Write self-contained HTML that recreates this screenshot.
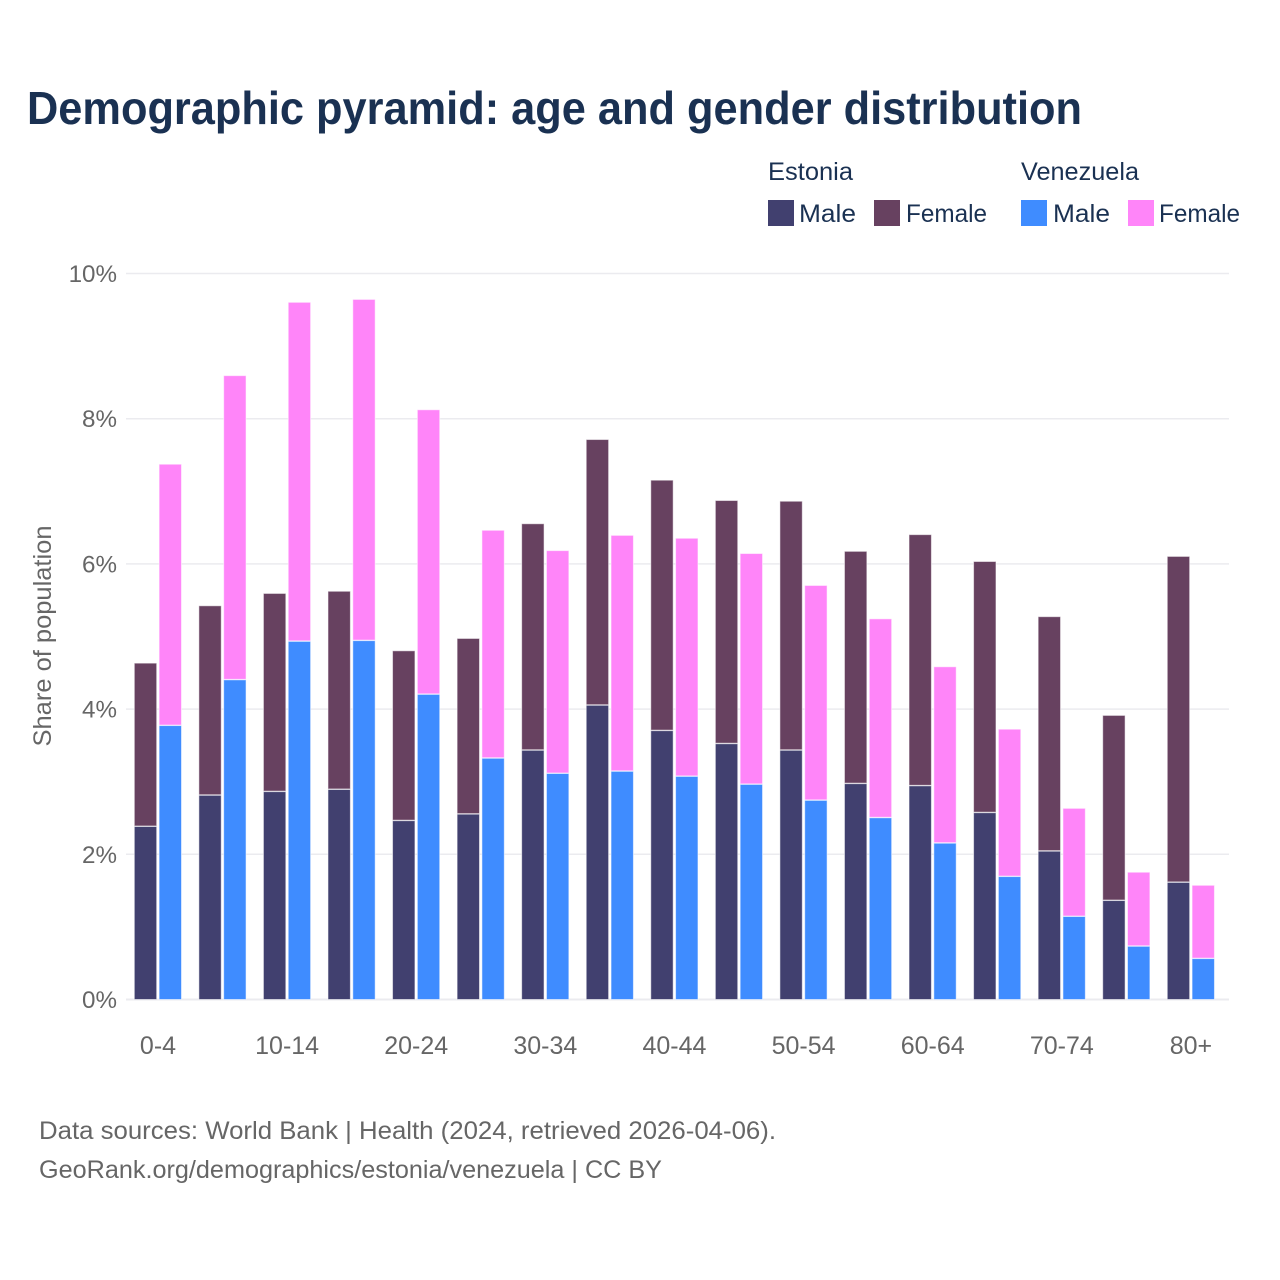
<!DOCTYPE html>
<html lang="en">
<head>
<meta charset="utf-8">
<title>Demographic pyramid: age and gender distribution</title>
<style>
html,body{margin:0;padding:0;background:#fff;width:1280px;height:1280px;overflow:hidden}
svg{display:block;font-family:"Liberation Sans",Arial,sans-serif}
</style>
</head>
<body>
<svg id="chart" xmlns="http://www.w3.org/2000/svg" width="1280" height="1280" viewBox="0 0 1280 1280">
  <rect width="1280" height="1280" fill="#fff"/>
  <text x="27" y="124" font-size="46" font-weight="700" fill="#1a3152" textLength="1055" lengthAdjust="spacingAndGlyphs">Demographic pyramid: age and gender distribution</text>

  <g font-size="25" fill="#1a3152">
    <text x="768" y="180" textLength="85" lengthAdjust="spacingAndGlyphs">Estonia</text>
    <rect x="768" y="200" width="26" height="26" fill="#41406f"/>
    <text x="799" y="222" textLength="57" lengthAdjust="spacingAndGlyphs">Male</text>
    <rect x="874" y="200" width="26" height="26" fill="#674160"/>
    <text x="906" y="222" textLength="81" lengthAdjust="spacingAndGlyphs">Female</text>
    <text x="1021" y="180" textLength="118" lengthAdjust="spacingAndGlyphs">Venezuela</text>
    <rect x="1021" y="200" width="26" height="26" fill="#3f8cff"/>
    <text x="1053" y="222" textLength="57" lengthAdjust="spacingAndGlyphs">Male</text>
    <rect x="1128" y="200" width="26" height="26" fill="#ff85f9"/>
    <text x="1159" y="222" textLength="81" lengthAdjust="spacingAndGlyphs">Female</text>
  </g>

  <text transform="translate(51,636) rotate(-90)" text-anchor="middle" font-size="25" fill="#666" textLength="221" lengthAdjust="spacingAndGlyphs">Share of population</text>

  <g id="grid"></g>
  <g id="y-ticks"></g>
  <g id="bars"></g>
  <g id="x-ticks"></g>

  <g font-size="25" fill="#666">
    <text x="39" y="1139" textLength="737" lengthAdjust="spacingAndGlyphs">Data sources: World Bank | Health (2024, retrieved 2026-04-06).</text>
    <text x="39" y="1178" textLength="623" lengthAdjust="spacingAndGlyphs">GeoRank.org/demographics/estonia/venezuela | CC BY</text>
  </g>
</svg>
<script>
const ageGroups = ["0-4","5-9","10-14","15-19","20-24","25-29","30-34","35-39","40-44","45-49","50-54","55-59","60-64","65-69","70-74","75-79","80+"];
const visibleAgeLabels = ["0-4","10-14","20-24","30-34","40-44","50-54","60-64","70-74","80+"];
const estoniaMale = [2.39,2.82,2.87,2.90,2.47,2.56,3.44,4.06,3.71,3.53,3.44,2.98,2.95,2.58,2.05,1.37,1.62];
const estoniaFemale = [2.25,2.61,2.73,2.73,2.34,2.42,3.12,3.66,3.45,3.35,3.43,3.20,3.46,3.46,3.23,2.55,4.49];
const venezuelaMale = [3.78,4.41,4.94,4.95,4.21,3.33,3.12,3.15,3.08,2.97,2.75,2.51,2.16,1.70,1.15,0.74,0.57];
const venezuelaFemale = [3.60,4.19,4.67,4.70,3.92,3.14,3.07,3.25,3.28,3.18,2.96,2.74,2.43,2.03,1.49,1.02,1.01];
const yTickValues = [0,2,4,6,8,10];

const SVG_NS = "http://www.w3.org/2000/svg";
function yScale(v) { return 999.5 - v * 72.6; }
function groupCenter(i) { return 158 + i * 64.56; }

function makeEl(tag, parent, props) {
  const el = document.createElementNS(SVG_NS, tag);
  for (const k in props) el.setAttribute(k, props[k]);
  parent.appendChild(el);
  return el;
}

const gridGroup = document.getElementById("grid");
const yTickGroup = document.getElementById("y-ticks");
yTickValues.forEach(function (v) {
  const line = makeEl("line", gridGroup, {x1: 126, x2: 1229, y1: yScale(v), y2: yScale(v), stroke: "#ebebef", "stroke-width": v === 0 ? 2 : 1.5});
  
  
  const label = makeEl("text", yTickGroup, {x: 117, y: yScale(v) + 8.5, "text-anchor": "end", "font-size": 24.2, fill: "#666"});
  label.textContent = v + "%";
  
  
});

const barGroup = document.getElementById("bars");
const BAR_W = 22.4;
function drawBar(x, v0, v1, fill, name) {
  const bar = makeEl("rect", barGroup, {
    x: x, y: yScale(v1) + 0.5, width: BAR_W, height: yScale(v0) - yScale(v1) - 0.5,
    fill: fill, stroke: "#fff", "stroke-opacity": 0.55, "stroke-width": 1
  });
  
  
}
ageGroups.forEach(function (age, i) {
  const c = groupCenter(i);
  const ex = c - 23.7;
  const vx = c + 1.1;
  drawBar(ex, 0, estoniaMale[i], "#41406f", "bar-estonia-male");
  drawBar(ex, estoniaMale[i], estoniaMale[i] + estoniaFemale[i], "#674160", "bar-estonia-female");
  drawBar(vx, 0, venezuelaMale[i], "#3f8cff", "bar-venezuela-male");
  drawBar(vx, venezuelaMale[i], venezuelaMale[i] + venezuelaFemale[i], "#ff85f9", "bar-venezuela-female");
});

const xTickGroup = document.getElementById("x-ticks");
ageGroups.forEach(function (age, i) {
  if (visibleAgeLabels.indexOf(age) < 0) return;
  const label = makeEl("text", xTickGroup, {x: groupCenter(i), y: 1054, "text-anchor": "middle", "font-size": 25, fill: "#666"});
  label.textContent = age;
  
  
});
</script>
</body>
</html>
